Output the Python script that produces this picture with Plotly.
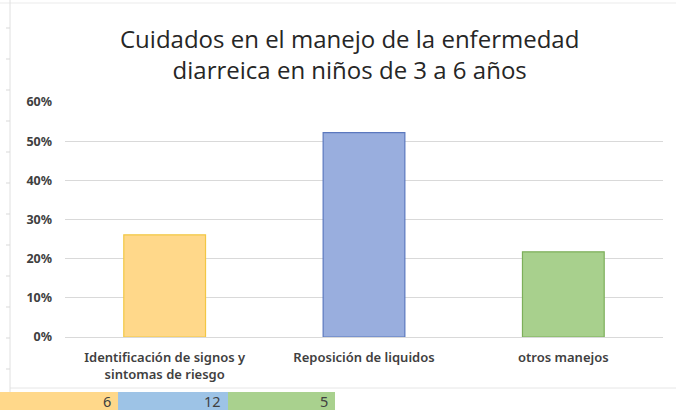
import plotly.graph_objects as go

categories = ["Identificación de signos y<br>sintomas de riesgo", "Reposición de liquidos", "otros manejos"]
counts = [6, 12, 5]
total = sum(counts)
shares = [c / total for c in counts]
fill_colors = ["#FFD88A", "#99AEDE", "#A8D08D"]
line_colors = ["#F2C744", "#5B78BE", "#7DAF5A"]
tick_vals = [0, 0.1, 0.2, 0.3, 0.4, 0.5, 0.6]
tick_text = ["0%", "10%", "20%", "30%", "40%", "50%", "60%"]
title_text = "Cuidados en el manejo de la enfermedad<br>diarreica en niños de 3 a 6 años"

W, H = 676, 410
L, R, T, B = 65, 13, 102, 73
pw, ph = W - L - R, H - T - B

def px(x):
    return (x - L) / pw

def py(y):
    return (H - B - y) / ph

fig = go.Figure()
fig.add_trace(go.Bar(
    x=categories, y=shares, width=0.41,
    marker=dict(color=fill_colors, line=dict(color=line_colors, width=1.2)),
    hoverinfo="skip",
))

shapes = []
annotations = []
# bottom table cells
cell_bounds = [(0, 118), (118, 228), (228, 335)]
for (x0, x1), c, col in zip(cell_bounds, counts, ["#FFD88A", "#9DC3E6", "#A9D18E"]):
    shapes.append(dict(type="rect", xref="paper", yref="paper",
                       x0=px(x0), x1=px(x1), y0=py(410), y1=py(392),
                       fillcolor=col, line=dict(width=0), layer="above"))
    annotations.append(dict(xref="paper", yref="paper", x=px(x1 - 5), y=py(400.5),
                            text=str(c), showarrow=False, xanchor="right", yanchor="middle",
                            font=dict(size=14.5, color="#404040", family="Noto Sans")))
# frame lines
shapes.append(dict(type="line", xref="paper", yref="paper", x0=px(10), x1=px(676),
                   y0=py(388), y1=py(388), line=dict(color="#E6E6E6", width=1)))
shapes.append(dict(type="line", xref="paper", yref="paper", x0=px(0), x1=px(676),
                   y0=py(3), y1=py(3), line=dict(color="#EBEBEB", width=1)))
shapes.append(dict(type="line", xref="paper", yref="paper", x0=px(10), x1=px(10),
                   y0=py(0), y1=py(392), line=dict(color="#E0E0E0", width=1)))
for yy in range(28, 392, 31):
    shapes.append(dict(type="line", xref="paper", yref="paper", x0=px(6), x1=px(10),
                       y0=py(yy), y1=py(yy), line=dict(color="#D9D9D9", width=1)))

annotations.append(dict(xref="paper", yref="paper", x=px(349), y=py(54),
                        text=title_text, showarrow=False, xanchor="center", yanchor="middle",
                        font=dict(size=24, color="#262626", family="Open Sans")))

fig.update_layout(
    width=W, height=H,
    margin=dict(l=L, r=R, t=T, b=B),
    paper_bgcolor="white", plot_bgcolor="white",
    showlegend=False,
    shapes=shapes, annotations=annotations,
    xaxis=dict(showline=True, linecolor="#D9D9D9", ticks="", showgrid=False,
               ticklabelstandoff=8,
               tickfont=dict(size=13, color="#404040", family="Noto Sans"),
               fixedrange=True),
    yaxis=dict(range=[0, 0.6], tickvals=tick_vals, ticktext=tick_text,
               showgrid=True, gridcolor="#D9D9D9", zeroline=False,
               ticks="", ticklabelstandoff=12,
               tickfont=dict(size=12.5, color="#404040", family="Noto Sans"),
               fixedrange=True),
)
fig.update_xaxes(tickfont_weight=600)
fig.update_yaxes(tickfont_weight="bold")
fig.write_html("out.html")
